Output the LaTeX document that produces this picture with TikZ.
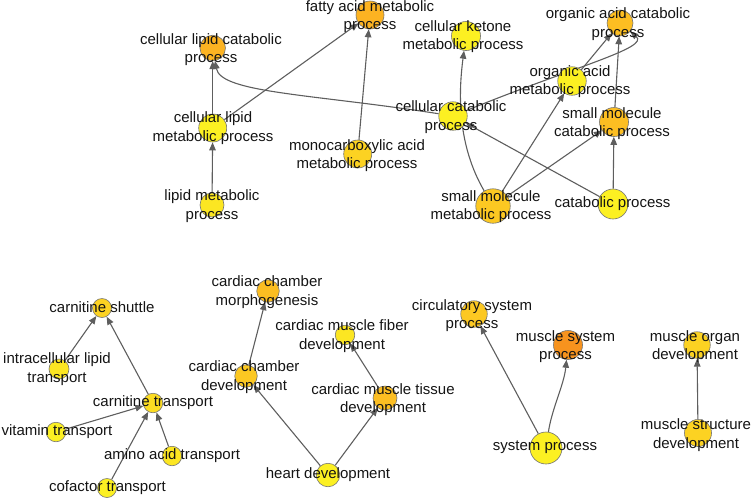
\documentclass[tikz,border=0pt]{standalone}
\usepackage{fontspec}
\setmainfont{Liberation Sans}
\usetikzlibrary{arrows.meta}
\pgfdeclarelayer{bg}
\pgfsetlayers{bg,main}
\definecolor{cy1}{HTML}{FCF022}
\definecolor{cy2}{HTML}{FCE622}
\definecolor{cy3}{HTML}{FCDC22}
\definecolor{cy4}{HTML}{FCD222}
\definecolor{co1}{HTML}{FCC822}
\definecolor{co2}{HTML}{FCBE22}
\definecolor{co3}{HTML}{FCB322}
\definecolor{co4}{HTML}{F7931E}
\definecolor{edgec}{HTML}{5E5E5E}
\begin{document}
\begin{tikzpicture}[x=1pt,y=-1pt,
  dot/.style={circle,draw=black!55,line width=0.6pt,inner sep=0pt},
  lbl/.style={align=center,font=\fontsize{15}{18.5}\selectfont,text=black!92,inner sep=0pt},
  edge/.style={draw=edgec,line width=1.1pt,-{Triangle[length=8pt,width=6.5pt]}}]
\useasboundingbox (0,0) rectangle (751,499);
% ---------- circles (top component)
\node[dot,fill=co3,minimum size=28pt] (fam) at (370,15) {};
\node[dot,fill=co3,minimum size=25.5pt] (clc) at (212.7,48) {};
\node[dot,fill=cy1,minimum size=28pt] (clm) at (212.7,128) {};
\node[dot,fill=cy4,minimum size=28pt] (mono) at (357.7,154) {};
\node[dot,fill=cy2,minimum size=24pt] (lmp) at (212,205) {};
\node[dot,fill=cy1,minimum size=29pt] (ket) at (466,36) {};
\node[dot,fill=co2,minimum size=26pt] (oac) at (620,23) {};
\node[dot,fill=cy1,minimum size=28.5pt] (oam) at (572,81) {};
\node[dot,fill=cy1,minimum size=28.5pt] (cc) at (453,116) {};
\node[dot,fill=co2,minimum size=29pt] (smc) at (614,122) {};
\node[dot,fill=co1,minimum size=34.5pt] (smm) at (493,206) {};
\node[dot,fill=cy1,minimum size=30pt] (cat) at (613,204) {};
% ---------- circles (bottom components)
\node[dot,fill=cy4,minimum size=19pt] (cs) at (102,308) {};
\node[dot,fill=cy2,minimum size=20pt] (ilt) at (59,369) {};
\node[dot,fill=cy3,minimum size=19.5pt] (ct) at (153,403) {};
\node[dot,fill=cy1,minimum size=19.5pt] (vt) at (56,432) {};
\node[dot,fill=cy2,minimum size=19.5pt] (aat) at (172,456) {};
\node[dot,fill=cy1,minimum size=19pt] (cof) at (107,488) {};
\node[dot,fill=co2,minimum size=22.5pt] (ccm) at (268,291) {};
\node[dot,fill=cy2,minimum size=19.5pt] (cmf) at (345,335) {};
\node[dot,fill=co1,minimum size=22.5pt] (ccd) at (246,376) {};
\node[dot,fill=co2,minimum size=24pt] (cmt) at (385,398) {};
\node[dot,fill=cy1,minimum size=23.5pt] (hd) at (328,475) {};
\node[dot,fill=co1,minimum size=26.5pt] (csp) at (474,314) {};
\node[dot,fill=co4,minimum size=29pt] (msp) at (568,345) {};
\node[dot,fill=cy4,minimum size=26.5pt] (mod) at (697,345) {};
\node[dot,fill=cy1,minimum size=32pt] (sp) at (546,448) {};
\node[dot,fill=cy4,minimum size=27pt] (msd) at (698,433) {};
% ---------- connectors
\begin{pgfonlayer}{bg}
\draw[edge] (lmp) -- (clm);
\draw[edge] (clm) -- (clc);
\draw[edge] (clm) -- (fam);
\draw[edge] (mono) -- (fam);
\draw[edge] (cc) .. controls +(-140,-22) and +(8,45) .. (clc);
\draw[edge] (smm) .. controls +(-35,-60) and +(-8,60) .. (ket);
\draw[edge] (cc) .. controls +(120,-49) and +(30,25) .. (oac);
\draw[edge] (oam) -- (oac);
\draw[edge] (smc) -- (oac);
\draw[edge] (smm) -- (oam);
\draw[edge] (smm) -- (smc);
\draw[edge] (cat) -- (cc);
\draw[edge] (cat) -- (smc);
\draw[edge] (ilt) -- (cs);
\draw[edge] (ct) -- (cs);
\draw[edge] (vt) -- (ct);
\draw[edge] (cof) -- (ct);
\draw[edge] (aat) -- (ct);
\draw[edge] (ccd) -- (ccm);
\draw[edge] (hd) -- (ccd);
\draw[edge] (hd) -- (cmt);
\draw[edge] (cmt) -- (cmf);
\draw[edge] (sp) -- (csp);
\draw[edge] (sp) .. controls +(6,-40) and +(-4,40) .. (msp);
\draw[edge] (msd) -- (mod);
\end{pgfonlayer}
% ---------- labels
\node[lbl] (fam-l) at (370,16.5) {fatty acid metabolic\\process};
\node[lbl] (clc-l) at (211,49.5) {cellular lipid catabolic\\process};
\node[lbl] (clm-l) at (213,128) {cellular lipid\\metabolic process};
\node[lbl] (mono-l) at (357,155.5) {monocarboxylic acid\\metabolic process};
\node[lbl] (lmp-l) at (212,206) {lipid metabolic\\process};
\node[lbl] (ket-l) at (463,36.5) {cellular ketone\\metabolic process};
\node[lbl] (oac-l) at (618,24) {organic acid catabolic\\process};
\node[lbl] (oam-l) at (570,81.5) {organic acid\\metabolic process};
\node[lbl] (cc-l) at (451,117) {cellular catabolic\\process};
\node[lbl] (smc-l) at (612,123.5) {small molecule\\catabolic process};
\node[lbl] (smm-l) at (491,206.5) {small molecule\\metabolic process};
\node[lbl] (cat-l) at (612.5,204) {catabolic process};
\node[lbl] (cs-l) at (102,307.5) {carnitine shuttle};
\node[lbl] (ilt-l) at (57,369) {intracellular lipid\\transport};
\node[lbl] (ct-l) at (153,402.5) {carnitine transport};
\node[lbl] (vt-l) at (57,431.5) {vitamin transport};
\node[lbl] (aat-l) at (172,455.5) {amino acid transport};
\node[lbl] (cof-l) at (107.5,487.5) {cofactor transport};
\node[lbl] (ccm-l) at (267,292) {cardiac chamber\\morphogenesis};
\node[lbl] (cmf-l) at (342,336) {cardiac muscle fiber\\development};
\node[lbl] (ccd-l) at (244,377) {cardiac chamber\\development};
\node[lbl] (cmt-l) at (383,399.5) {cardiac muscle tissue\\development};
\node[lbl] (hd-l) at (328,474.5) {heart development};
\node[lbl] (csp-l) at (472,315.5) {circulatory system\\process};
\node[lbl] (msp-l) at (565.5,346.5) {muscle system\\process};
\node[lbl] (mod-l) at (695,346.5) {muscle organ\\development};
\node[lbl] (sp-l) at (545,447.5) {system process};
\node[lbl] (msd-l) at (696,435) {muscle structure\\development};
\end{tikzpicture}
\end{document}
